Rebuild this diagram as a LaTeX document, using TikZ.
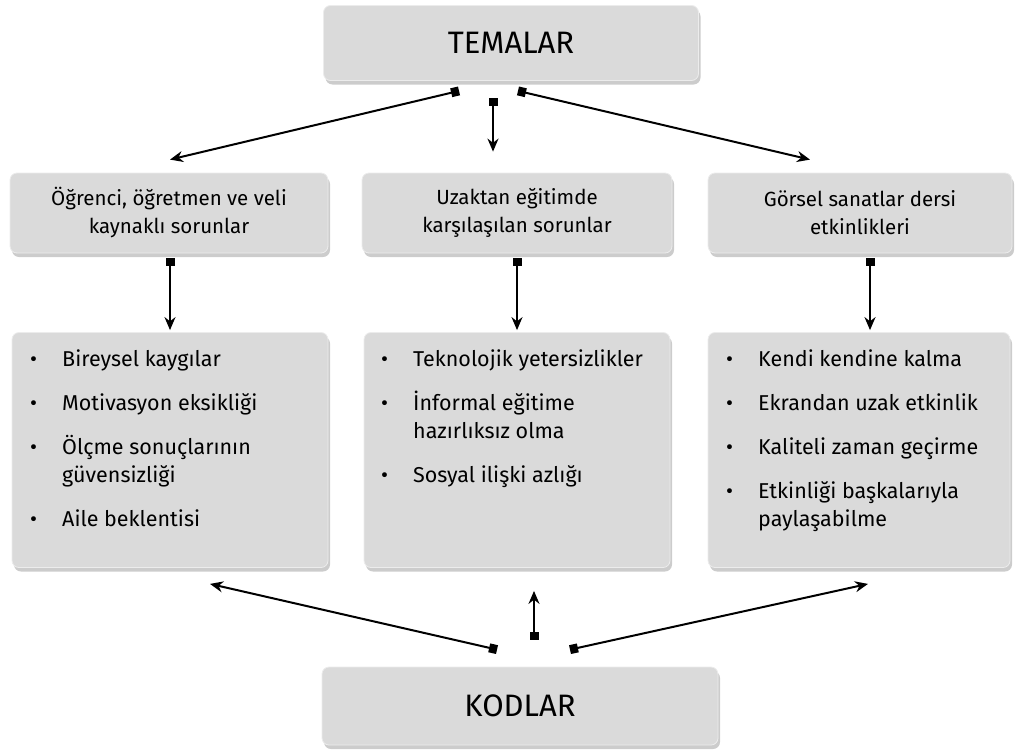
\documentclass[tikz,border=0pt]{standalone}
\usepackage{fontspec}
\setmainfont{Fira Sans}
\usetikzlibrary{arrows.meta,shadows,calc}
\definecolor{boxgray}{RGB}{218,218,218}
\newcommand\itm[1]{\par\hangindent=32pt\hangafter=1\noindent\makebox[32pt][l]{\textbullet}#1}
\tikzset{
  box/.style={rounded corners=7pt, fill=boxgray, draw=white!85!gray, line width=0.8pt,
    drop shadow={opacity=0.4, shadow xshift=2pt, shadow yshift=-4pt}, inner sep=0pt},
  conn/.style={line width=2pt, {Square[length=8pt,width=9pt]}-{Stealth[length=13pt,width=11pt]}},
  head/.style={font=\fontsize{31}{34}\selectfont},
  mid/.style={font=\fontsize{20.5}{28}\selectfont, align=center},
  lst/.style={anchor=base west, inner sep=0pt, font=\fontsize{21.5}{28}\selectfont}
}
\begin{document}
\begin{tikzpicture}[x=1pt,y=-1pt]
\useasboundingbox (0,0) rectangle (1020,755);
\node[box, minimum width=375pt, minimum height=75pt] (tem) at (511,43) {};
\node[head] (temt) at (tem.center) {TEMALAR};
\node[box, minimum width=318pt, minimum height=80pt] (m1) at (169,213) {};
\node[box, minimum width=310pt, minimum height=80pt] (m2) at (517,213) {};
\node[box, minimum width=304pt, minimum height=80pt] (m3) at (860,213) {};
\node[mid] (m1t) at (m1.center) {Öğrenci, öğretmen ve veli\\kaynaklı sorunlar};
\node[mid] (m2t) at (m2.center) {Uzaktan eğitimde\\karşılaşılan sorunlar};
\node[mid] (m3t) at (m3.center) {Görsel sanatlar dersi\\etkinlikleri};
\node[box, minimum width=316pt, minimum height=235pt] (b1) at (170,450) {};
\node[box, minimum width=306pt, minimum height=235pt] (b2) at (517,450) {};
\node[box, minimum width=302pt, minimum height=235pt] (b3) at (859,450) {};
\node[lst] (l1) at (30,366) {\begin{minipage}[t]{290pt}\baselineskip=28pt\parskip=16pt
\itm{Bireysel kaygılar}
\itm{Motivasyon eksikliği}
\itm{Ölçme sonuçlarının\\güvensizliği}
\itm{Aile beklentisi}\end{minipage}};
\node[lst] (l2) at (381,366) {\begin{minipage}[t]{285pt}\baselineskip=28pt\parskip=16pt
\itm{Teknolojik yetersizlikler}
\itm{İnformal eğitime\\hazırlıksız olma}
\itm{Sosyal ilişki azlığı}\end{minipage}};
\node[lst] (l3) at (726,366) {\begin{minipage}[t]{285pt}\baselineskip=28pt\parskip=16pt
\itm{Kendi kendine kalma}
\itm{Ekrandan uzak etkinlik}
\itm{Kaliteli zaman geçirme}
\itm{Etkinliği başkalarıyla\\paylaşabilme}\end{minipage}};
\node[box, minimum width=396pt, minimum height=78pt] (kod) at (520,706) {};
\node[head] (kodt) at (kod.center) {KODLAR};
% top connectors
\coordinate (ts1) at ($(tem.south)+(-52,10)$);
\coordinate (ts2) at ($(tem.south)+(-18,17)$);
\coordinate (ts3) at ($(tem.south)+(7,10)$);
\coordinate (te1) at ($(m1.north)+(1,-13)$);
\coordinate (te2) at ($(m2.north)+(-24,-21)$);
\coordinate (te3) at ($(m3.north)+(-50,-13)$);
\draw[conn] (ts1) -- (te1);
\draw[conn] (ts2) -- (te2);
\draw[conn] (ts3) -- (te3);
% vertical connectors
\draw[conn] ($(m1.south)+(1,5)$) -- ($(b1.north)+(0,-2)$);
\draw[conn] ($(m2.south)+(0,5)$) -- ($(b2.north)+(0,-2)$);
\draw[conn] ($(m3.south)+(10,5)$) -- ($(b3.north)+(11,-2)$);
% bottom connectors
\coordinate (ks1) at ($(kod.north)+(-23,-17)$);
\coordinate (ks2) at ($(kod.north)+(14,-27)$);
\coordinate (ks3) at ($(kod.north)+(50,-17)$);
\coordinate (ke1) at ($(b1.south)+(40,16)$);
\coordinate (ke2) at ($(b2.south)+(17,23)$);
\coordinate (ke3) at ($(b3.south)+(9,16)$);
\draw[conn] (ks1) -- (ke1);
\draw[conn] (ks2) -- (ke2);
\draw[conn] (ks3) -- (ke3);
\end{tikzpicture}
\end{document}
